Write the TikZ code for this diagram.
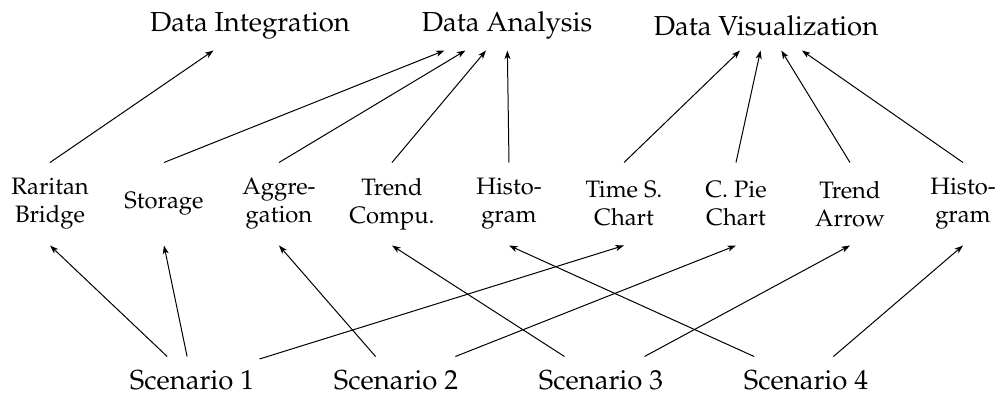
\documentclass[tikz,border=0pt]{standalone}
\usepackage[T1]{fontenc}
\usepackage{mathpazo}
\usetikzlibrary{arrows.meta}
\tikzset{
  toplabel/.style={inner xsep=2pt, inner ysep=0pt, minimum height=19.6pt, font=\fontsize{11}{13.5}\selectfont},
  midlabel/.style={align=center, inner xsep=2pt, inner ysep=0pt, minimum height=32.8pt, font=\fontsize{9.5}{11.2}\selectfont},
  botlabel/.style={inner xsep=2pt, inner ysep=0pt, minimum height=18.4pt, font=\fontsize{11}{13.5}\selectfont},
  link/.style={-{Stealth[length=3.4pt,width=2.4pt,inset=0.9pt]}, line width=0.4pt}
}
\begin{document}
\begin{tikzpicture}[x=0.4pt,y=-0.4pt]
\useasboundingbox (0,0) rectangle (1002,394);
% top
\node[toplabel] (di) at (250,25.5) {Data Integration};
\node[toplabel] (da) at (507,25.5) {Data Analysis};
\node[toplabel] (dv) at (766,25.5) {Data Visualization};
% middle
\node[midlabel] (rb) at (50,204) {Raritan\\Bridge};
\node[midlabel] (st) at (164,204) {Storage};
\node[midlabel] (ag) at (279,204) {Aggre-\\gation};
\node[midlabel] (tc) at (392,204) {Trend\\Compu.};
\node[midlabel] (h1) at (509,204) {Histo-\\gram};
\node[midlabel] (ts) at (624,204) {Time S.\\Chart};
\node[midlabel] (cp) at (736,204) {C. Pie\\Chart};
\node[midlabel] (ta) at (850,204) {Trend\\Arrow};
\node[midlabel] (h2) at (963,204) {Histo-\\gram};
% bottom
\node[botlabel] (s1) at (192,380) {Scenario 1};
\node[botlabel] (s2) at (396,380) {Scenario 2};
\node[botlabel] (s3) at (601,380) {Scenario 3};
\node[botlabel] (s4) at (806,380) {Scenario 4};
% upper connectors
\draw[link] (rb.north) -- (di);
\draw[link] (st.north) -- (da);
\draw[link] (ag.north) -- (da);
\draw[link] (tc.north) -- (da);
\draw[link] (h1.north) -- (da);
\draw[link] (ts.north) -- (dv);
\draw[link] (cp.north) -- (dv);
\draw[link] (ta.north) -- (dv);
\draw[link] (h2.north) -- (dv);
% lower connectors
\draw[link] (s1) -- (rb.south);
\draw[link] (s1) -- (st.south);
\draw[link] (s1) -- (ts.south);
\draw[link] (s2) -- (ag.south);
\draw[link] (s2) -- (cp.south);
\draw[link] (s3) -- (tc.south);
\draw[link] (s3) -- (ta.south);
\draw[link] (s4) -- (h1.south);
\draw[link] (s4) -- (h2.south);
\end{tikzpicture}
\end{document}
